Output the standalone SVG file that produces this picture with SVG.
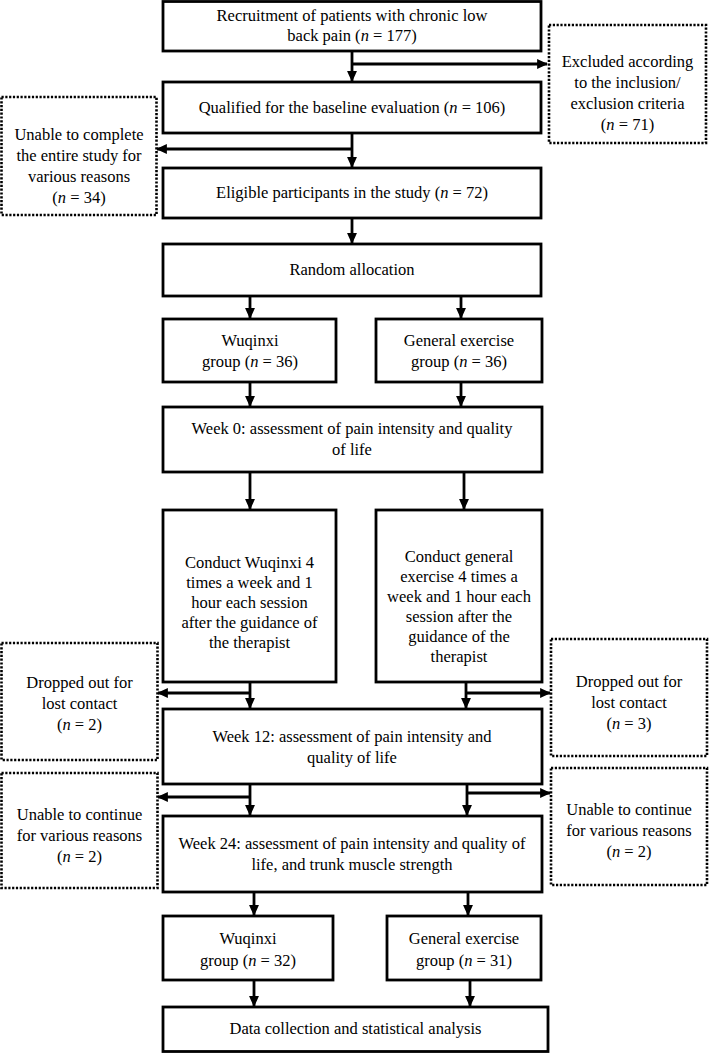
<svg xmlns="http://www.w3.org/2000/svg" width="709" height="1053" viewBox="0 0 709 1053">
<style>
.b{fill:#fff;stroke:#000;stroke-width:2.8}
.d{fill:#fff;stroke:#000;stroke-width:2.6;stroke-dasharray:2.2 1.6}
.c{fill:none;stroke:#000;stroke-width:2.8}
text{font-family:"Liberation Serif","Times New Roman",serif;font-size:16.5px;fill:#000;text-anchor:middle}
.i{font-style:italic}
</style>
<defs>
<marker id="ah" viewBox="0 0 10 10" refX="9" refY="5" markerWidth="11" markerHeight="11" markerUnits="userSpaceOnUse" orient="auto">
<path d="M0,0.5 L10,5 L0,9.5 z" fill="#000"/>
</marker>
</defs>
<rect width="709" height="1053" fill="#fff"/>
<g id="connectors">
<path class="c" marker-end="url(#ah)" d="M352,51 V81"/>
<path class="c" marker-end="url(#ah)" d="M352,64 H547"/>
<path class="c" marker-end="url(#ah)" d="M352,133 V167"/>
<path class="c" marker-end="url(#ah)" d="M352,149 H157"/>
<path class="c" marker-end="url(#ah)" d="M352,218 V243"/>
<path class="c" marker-end="url(#ah)" d="M250,296 V318"/>
<path class="c" marker-end="url(#ah)" d="M461,296 V318"/>
<path class="c" marker-end="url(#ah)" d="M250,382 V406"/>
<path class="c" marker-end="url(#ah)" d="M461,382 V406"/>
<path class="c" marker-end="url(#ah)" d="M250,472 V509"/>
<path class="c" marker-end="url(#ah)" d="M464,472 V509"/>
<path class="c" marker-end="url(#ah)" d="M250,682 V708"/>
<path class="c" marker-end="url(#ah)" d="M466,682 V708"/>
<path class="c" marker-end="url(#ah)" d="M250,693 H158"/>
<path class="c" marker-end="url(#ah)" d="M466,693 H550"/>
<path class="c" marker-end="url(#ah)" d="M250,784 V815"/>
<path class="c" marker-end="url(#ah)" d="M467,784 V815"/>
<path class="c" marker-end="url(#ah)" d="M250,797 H158"/>
<path class="c" marker-end="url(#ah)" d="M467,793 H550"/>
<path class="c" marker-end="url(#ah)" d="M254,892 V915"/>
<path class="c" marker-end="url(#ah)" d="M468,892 V915"/>
<path class="c" marker-end="url(#ah)" d="M254,980 V1006"/>
<path class="c" marker-end="url(#ah)" d="M470,980 V1006"/>
</g>
<g id="recruit"><rect class="b" x="163" y="1.5" width="378" height="49.5"/>
<text x="352" y="21">Recruitment of patients with chronic low</text>
<text x="352" y="41">back pain (<tspan class="i">n</tspan> = 177)</text></g>
<g id="excluded"><rect class="d" x="549" y="25" width="157" height="118"/>
<text x="627.5" y="67">Excluded according</text>
<text x="627.5" y="88">to the inclusion/</text>
<text x="627.5" y="109">exclusion criteria</text>
<text x="627.5" y="130">(<tspan class="i">n</tspan> = 71)</text></g>
<g id="qualified"><rect class="b" x="163" y="82" width="378" height="51"/>
<text x="352" y="113">Qualified for the baseline evaluation (<tspan class="i">n</tspan> = 106)</text></g>
<g id="unable1"><rect class="d" x="1.5" y="97" width="155" height="118"/>
<text x="79" y="140">Unable to complete</text>
<text x="79" y="161">the entire study for</text>
<text x="79" y="182">various reasons</text>
<text x="79" y="203">(<tspan class="i">n</tspan> = 34)</text></g>
<g id="eligible"><rect class="b" x="163" y="168" width="378" height="50"/>
<text x="352" y="198">Eligible participants in the study (<tspan class="i">n</tspan> = 72)</text></g>
<g id="random"><rect class="b" x="163" y="244" width="378" height="52"/>
<text x="352" y="275">Random allocation</text></g>
<g id="wq1"><rect class="b" x="163" y="319" width="173" height="63"/>
<text x="250" y="346">Wuqinxi</text>
<text x="250" y="367">group (<tspan class="i">n</tspan> = 36)</text></g>
<g id="ge1"><rect class="b" x="376" y="319" width="166" height="63"/>
<text x="459" y="346">General exercise</text>
<text x="459" y="367">group (<tspan class="i">n</tspan> = 36)</text></g>
<g id="week0"><rect class="b" x="163" y="407" width="379" height="65"/>
<text x="352" y="434">Week 0: assessment of pain intensity and quality</text>
<text x="352" y="455">of life</text></g>
<g id="conductW"><rect class="b" x="163" y="510" width="173" height="172"/>
<text x="249.5" y="568">Conduct Wuqinxi 4</text>
<text x="249.5" y="588">times a week and 1</text>
<text x="249.5" y="608">hour each session</text>
<text x="249.5" y="628">after the guidance of</text>
<text x="249.5" y="648">the therapist</text></g>
<g id="conductG"><rect class="b" x="376" y="510" width="166" height="172"/>
<text x="459" y="562">Conduct general</text>
<text x="459" y="582">exercise 4 times a</text>
<text x="459" y="602">week and 1 hour each</text>
<text x="459" y="622">session after the</text>
<text x="459" y="642">guidance of the</text>
<text x="459" y="662">therapist</text></g>
<g id="dropL"><rect class="d" x="1.5" y="643" width="156" height="117"/>
<text x="79.5" y="688">Dropped out for</text>
<text x="79.5" y="709">lost contact</text>
<text x="79.5" y="730">(<tspan class="i">n</tspan> = 2)</text></g>
<g id="dropR"><rect class="d" x="551" y="639" width="156" height="117"/>
<text x="629" y="687">Dropped out for</text>
<text x="629" y="708">lost contact</text>
<text x="629" y="729">(<tspan class="i">n</tspan> = 3)</text></g>
<g id="week12"><rect class="b" x="163" y="709" width="379" height="75"/>
<text x="352" y="742">Week 12: assessment of pain intensity and</text>
<text x="352" y="763">quality of life</text></g>
<g id="unableL"><rect class="d" x="1.5" y="773" width="156" height="115"/>
<text x="79.5" y="820">Unable to continue</text>
<text x="79.5" y="841">for various reasons</text>
<text x="79.5" y="862">(<tspan class="i">n</tspan> = 2)</text></g>
<g id="unableR"><rect class="d" x="551" y="768" width="156" height="117"/>
<text x="629" y="815">Unable to continue</text>
<text x="629" y="836">for various reasons</text>
<text x="629" y="857">(<tspan class="i">n</tspan> = 2)</text></g>
<g id="week24"><rect class="b" x="163" y="816" width="379" height="76"/>
<text x="352" y="849">Week 24: assessment of pain intensity and quality of</text>
<text x="352" y="870">life, and trunk muscle strength</text></g>
<g id="wq2"><rect class="b" x="163" y="916" width="170" height="64"/>
<text x="248" y="944">Wuqinxi</text>
<text x="248" y="966">group (<tspan class="i">n</tspan> = 32)</text></g>
<g id="ge2"><rect class="b" x="387" y="916" width="154" height="64"/>
<text x="464" y="944">General exercise</text>
<text x="464" y="966">group (<tspan class="i">n</tspan> = 31)</text></g>
<g id="data"><rect class="b" x="163" y="1007" width="385" height="44.5"/>
<text x="355.5" y="1034">Data collection and statistical analysis</text></g>
</svg>
